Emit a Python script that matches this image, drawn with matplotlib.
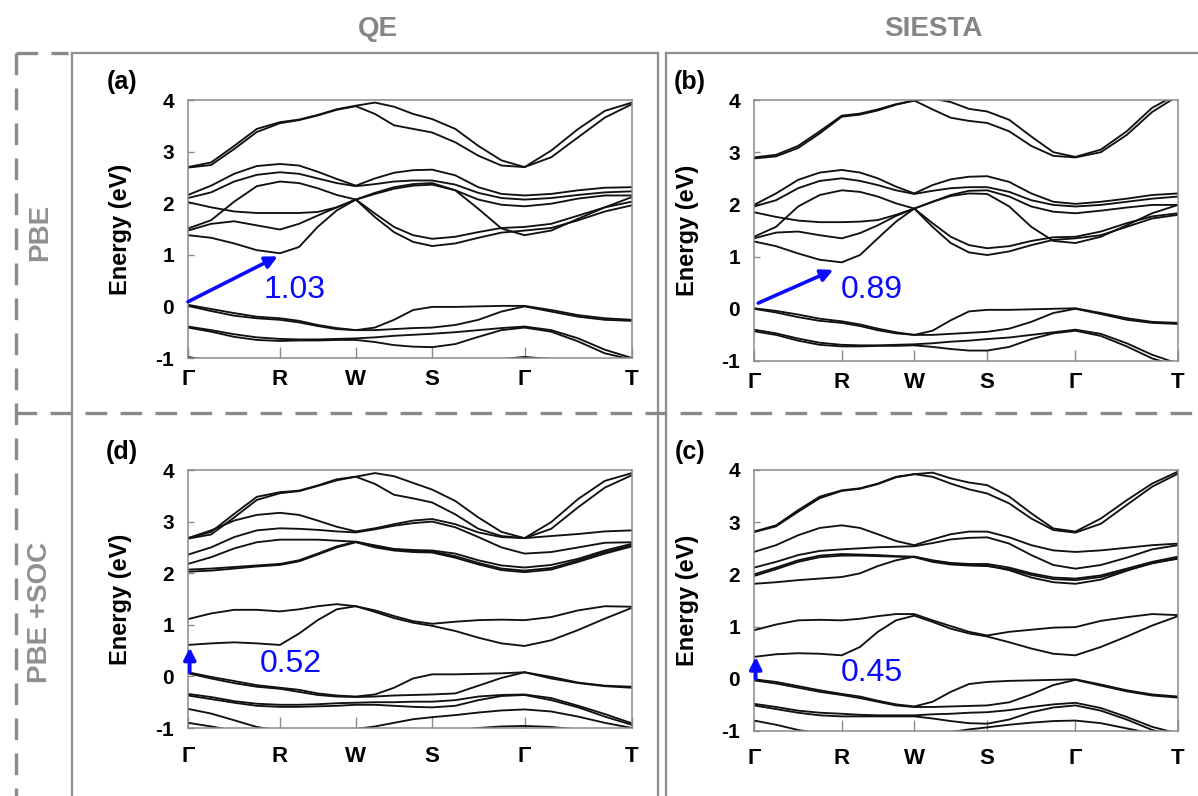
import matplotlib
matplotlib.use("Agg")
import matplotlib.pyplot as plt
from matplotlib.lines import Line2D

plt.rcParams['font.family'] = ['Liberation Sans', 'DejaVu Sans']

# ---------------- k-path ----------------
kpath_labels = ["Γ", "R", "W", "S", "Γ", "T"]
kpath_pos = [0.0, 0.207, 0.378, 0.55, 0.758, 1.0]
k = [0.0, 0.052, 0.104, 0.155, 0.207, 0.25, 0.292, 0.335, 0.378,
     0.421, 0.464, 0.507, 0.55, 0.602, 0.654, 0.706, 0.758,
     0.818, 0.879, 0.939, 1.0]

# ---------------- (a) QE, PBE ----------------
a_c1 = [2.70, 2.79, 3.11, 3.44, 3.57, 3.62, 3.71, 3.82, 3.89, 3.95, 3.87, 3.73, 3.63, 3.44, 3.11, 2.83, 2.70, 3.02, 3.44, 3.79, 3.95]
a_c2 = [2.69, 2.74, 3.05, 3.38, 3.55, 3.61, 3.70, 3.81, 3.88, 3.73, 3.51, 3.44, 3.37, 3.18, 2.92, 2.73, 2.70, 2.89, 3.28, 3.66, 3.92]
a_m1 = [2.16, 2.34, 2.57, 2.72, 2.76, 2.73, 2.61, 2.47, 2.34, 2.48, 2.59, 2.64, 2.65, 2.54, 2.31, 2.18, 2.15, 2.18, 2.25, 2.30, 2.31]
a_m2 = [2.10, 2.21, 2.42, 2.55, 2.60, 2.57, 2.48, 2.39, 2.33, 2.37, 2.42, 2.44, 2.44, 2.36, 2.20, 2.10, 2.07, 2.10, 2.16, 2.21, 2.23]
a_m3 = [1.51, 1.67, 2.03, 2.33, 2.42, 2.39, 2.29, 2.16, 2.07, 2.20, 2.31, 2.37, 2.39, 2.25, 2.07, 1.97, 1.94, 1.99, 2.09, 2.15, 2.15]
a_m4 = [2.02, 1.92, 1.84, 1.81, 1.81, 1.81, 1.83, 1.92, 2.07, 2.18, 2.28, 2.34, 2.36, 2.25, 1.89, 1.51, 1.38, 1.47, 1.70, 1.92, 2.12]
a_m5 = [1.47, 1.60, 1.65, 1.57, 1.49, 1.60, 1.76, 1.92, 2.07, 1.80, 1.54, 1.38, 1.31, 1.35, 1.44, 1.52, 1.54, 1.60, 1.76, 1.92, 2.03]
a_m6 = [1.38, 1.33, 1.22, 1.09, 1.03, 1.15, 1.54, 1.86, 2.07, 1.73, 1.44, 1.25, 1.17, 1.22, 1.33, 1.43, 1.47, 1.52, 1.67, 1.84, 1.96]
a_v1 = [0.03, -0.05, -0.13, -0.20, -0.23, -0.28, -0.36, -0.42, -0.46, -0.41, -0.26, -0.07, -0.01, -0.01, 0.00, 0.01, 0.01, -0.07, -0.17, -0.23, -0.26]
a_v2 = [0.01, -0.09, -0.18, -0.23, -0.26, -0.31, -0.38, -0.44, -0.46, -0.46, -0.44, -0.42, -0.41, -0.36, -0.26, -0.10, 0.00, -0.10, -0.20, -0.26, -0.28]
a_v3 = [-0.39, -0.46, -0.54, -0.60, -0.63, -0.64, -0.64, -0.63, -0.62, -0.60, -0.57, -0.55, -0.53, -0.50, -0.46, -0.42, -0.39, -0.46, -0.62, -0.84, -1.00]
a_v4 = [-0.41, -0.49, -0.59, -0.65, -0.67, -0.66, -0.66, -0.65, -0.65, -0.69, -0.75, -0.78, -0.79, -0.73, -0.59, -0.46, -0.41, -0.49, -0.68, -0.91, -1.03]
a_v5 = [-0.98, -1.05, -1.15, -1.20, -1.22, -1.22, -1.22, -1.22, -1.22, -1.22, -1.22, -1.22, -1.22, -1.20, -1.12, -1.02, -0.98, -1.02, -1.12, -1.20, -1.22]

# ---------------- (b) SIESTA, PBE ----------------
b_c1 = [2.90, 2.95, 3.12, 3.40, 3.70, 3.74, 3.82, 3.92, 3.99, 4.03, 3.96, 3.83, 3.78, 3.62, 3.30, 3.00, 2.91, 3.05, 3.40, 3.85, 4.12]
b_c2 = [2.88, 2.92, 3.08, 3.36, 3.68, 3.72, 3.80, 3.91, 3.99, 3.82, 3.66, 3.60, 3.56, 3.40, 3.12, 2.93, 2.90, 3.00, 3.33, 3.77, 4.08]
b_m1 = [1.99, 2.21, 2.47, 2.61, 2.66, 2.61, 2.50, 2.34, 2.21, 2.37, 2.48, 2.53, 2.54, 2.43, 2.21, 2.05, 2.01, 2.05, 2.11, 2.18, 2.21]
b_m2 = [1.96, 2.08, 2.31, 2.45, 2.50, 2.45, 2.37, 2.27, 2.20, 2.26, 2.31, 2.33, 2.33, 2.24, 2.08, 1.99, 1.96, 1.99, 2.05, 2.11, 2.15]
b_m3 = [1.38, 1.57, 1.96, 2.18, 2.27, 2.24, 2.15, 2.02, 1.92, 2.05, 2.18, 2.26, 2.27, 2.15, 1.96, 1.86, 1.83, 1.88, 1.94, 1.99, 1.99]
b_m4 = [1.85, 1.76, 1.69, 1.66, 1.66, 1.67, 1.70, 1.80, 1.92, 2.05, 2.16, 2.21, 2.20, 1.96, 1.57, 1.30, 1.26, 1.38, 1.60, 1.83, 1.99]
b_m5 = [1.35, 1.46, 1.48, 1.41, 1.35, 1.45, 1.60, 1.78, 1.92, 1.64, 1.38, 1.22, 1.16, 1.20, 1.30, 1.37, 1.38, 1.48, 1.64, 1.77, 1.83]
b_m6 = [1.29, 1.20, 1.06, 0.94, 0.89, 1.03, 1.35, 1.67, 1.92, 1.57, 1.26, 1.08, 1.03, 1.10, 1.22, 1.32, 1.35, 1.41, 1.57, 1.73, 1.80]
b_v1 = [0.01, -0.04, -0.11, -0.19, -0.24, -0.30, -0.38, -0.45, -0.50, -0.42, -0.22, -0.05, -0.02, -0.02, -0.01, 0.00, 0.01, -0.08, -0.18, -0.25, -0.27]
b_v2 = [0.00, -0.07, -0.16, -0.23, -0.27, -0.33, -0.41, -0.47, -0.50, -0.50, -0.48, -0.46, -0.44, -0.38, -0.25, -0.08, 0.00, -0.10, -0.21, -0.27, -0.29]
b_v3 = [-0.40, -0.47, -0.57, -0.65, -0.69, -0.70, -0.70, -0.69, -0.68, -0.66, -0.63, -0.61, -0.58, -0.55, -0.50, -0.45, -0.40, -0.48, -0.66, -0.88, -1.05]
b_v4 = [-0.43, -0.50, -0.61, -0.69, -0.72, -0.72, -0.71, -0.71, -0.70, -0.73, -0.77, -0.80, -0.80, -0.73, -0.58, -0.47, -0.42, -0.52, -0.72, -0.95, -1.10]

# ---------------- (d) QE, PBE+SOC ----------------
d_c1 = [2.68, 2.80, 3.15, 3.48, 3.57, 3.60, 3.70, 3.82, 3.87, 3.94, 3.88, 3.75, 3.62, 3.40, 3.08, 2.80, 2.68, 2.99, 3.44, 3.79, 3.94]
d_c2 = [2.67, 2.75, 3.08, 3.42, 3.55, 3.59, 3.69, 3.80, 3.87, 3.73, 3.52, 3.45, 3.37, 3.14, 2.86, 2.72, 2.68, 2.86, 3.28, 3.66, 3.90]
d_m1 = [2.68, 2.83, 3.02, 3.13, 3.17, 3.13, 3.02, 2.90, 2.81, 2.87, 2.95, 3.02, 3.05, 2.95, 2.79, 2.70, 2.68, 2.72, 2.76, 2.81, 2.83]
d_m2 = [2.36, 2.50, 2.70, 2.83, 2.87, 2.86, 2.84, 2.81, 2.79, 2.85, 2.92, 2.97, 3.00, 2.89, 2.70, 2.50, 2.38, 2.41, 2.50, 2.59, 2.60]
d_m3 = [2.18, 2.31, 2.48, 2.60, 2.65, 2.65, 2.65, 2.63, 2.61, 2.54, 2.47, 2.45, 2.44, 2.38, 2.25, 2.15, 2.11, 2.16, 2.28, 2.44, 2.57]
d_m4 = [2.07, 2.09, 2.12, 2.15, 2.18, 2.25, 2.38, 2.52, 2.61, 2.52, 2.46, 2.43, 2.42, 2.33, 2.20, 2.09, 2.05, 2.10, 2.25, 2.41, 2.54]
d_m5 = [2.03, 2.05, 2.09, 2.13, 2.16, 2.23, 2.36, 2.50, 2.60, 2.50, 2.44, 2.41, 2.40, 2.30, 2.17, 2.06, 2.02, 2.07, 2.22, 2.38, 2.52]
d_l1 = [1.11, 1.22, 1.29, 1.29, 1.26, 1.30, 1.36, 1.40, 1.36, 1.28, 1.17, 1.07, 1.02, 1.06, 1.09, 1.10, 1.09, 1.15, 1.28, 1.36, 1.35]
d_l2 = [0.61, 0.64, 0.66, 0.64, 0.61, 0.83, 1.09, 1.30, 1.36, 1.25, 1.13, 1.04, 0.98, 0.88, 0.75, 0.64, 0.59, 0.70, 0.90, 1.12, 1.33]
d_v1 = [0.08, -0.01, -0.09, -0.17, -0.22, -0.26, -0.33, -0.37, -0.39, -0.35, -0.22, -0.04, 0.04, 0.04, 0.05, 0.06, 0.08, -0.01, -0.12, -0.18, -0.20]
d_v2 = [0.06, -0.04, -0.13, -0.20, -0.24, -0.30, -0.36, -0.39, -0.40, -0.39, -0.37, -0.36, -0.35, -0.33, -0.18, -0.03, 0.08, -0.04, -0.13, -0.19, -0.22]
d_v3 = [-0.34, -0.40, -0.48, -0.53, -0.55, -0.55, -0.54, -0.52, -0.51, -0.50, -0.50, -0.49, -0.49, -0.46, -0.39, -0.36, -0.35, -0.42, -0.57, -0.73, -0.91]
d_v4 = [-0.37, -0.44, -0.51, -0.57, -0.59, -0.59, -0.58, -0.57, -0.55, -0.55, -0.57, -0.59, -0.60, -0.57, -0.46, -0.38, -0.36, -0.46, -0.60, -0.78, -0.94]
d_v5 = [-0.63, -0.72, -0.85, -0.98, -1.05, -1.08, -1.08, -1.05, -1.02, -0.97, -0.90, -0.83, -0.79, -0.75, -0.70, -0.66, -0.64, -0.68, -0.78, -0.90, -1.00]
d_v6 = [-0.90, -0.97, -1.05, -1.10, -1.15, -1.15, -1.15, -1.15, -1.15, -1.15, -1.15, -1.12, -1.10, -1.05, -1.00, -0.97, -0.96, -0.98, -1.03, -1.10, -1.15]

# ---------------- (c) SIESTA, PBE+SOC ----------------
c_c1 = [2.82, 2.94, 3.23, 3.49, 3.61, 3.65, 3.74, 3.87, 3.92, 3.95, 3.84, 3.76, 3.71, 3.49, 3.17, 2.88, 2.82, 3.07, 3.42, 3.74, 3.97]
c_c2 = [2.81, 2.92, 3.20, 3.46, 3.60, 3.64, 3.73, 3.86, 3.92, 3.87, 3.74, 3.63, 3.55, 3.36, 3.07, 2.85, 2.80, 2.97, 3.33, 3.68, 3.93]
c_m1 = [2.43, 2.56, 2.75, 2.89, 2.94, 2.89, 2.77, 2.64, 2.56, 2.67, 2.77, 2.82, 2.82, 2.71, 2.56, 2.46, 2.43, 2.46, 2.51, 2.56, 2.59]
c_m2 = [2.13, 2.24, 2.37, 2.45, 2.48, 2.50, 2.52, 2.53, 2.54, 2.60, 2.67, 2.70, 2.71, 2.59, 2.37, 2.18, 2.11, 2.18, 2.32, 2.48, 2.56]
c_m3 = [2.00, 2.13, 2.27, 2.36, 2.39, 2.38, 2.37, 2.35, 2.34, 2.27, 2.22, 2.20, 2.20, 2.13, 2.02, 1.94, 1.92, 1.98, 2.11, 2.24, 2.34]
c_m4 = [1.82, 1.85, 1.89, 1.92, 1.95, 2.02, 2.16, 2.27, 2.34, 2.26, 2.21, 2.18, 2.17, 2.08, 1.94, 1.85, 1.82, 1.90, 2.07, 2.22, 2.30]
c_m5 = [1.97, 2.10, 2.24, 2.33, 2.36, 2.36, 2.35, 2.34, 2.33, 2.24, 2.19, 2.17, 2.16, 2.10, 1.99, 1.91, 1.89, 1.95, 2.08, 2.21, 2.31]
c_l1 = [0.93, 1.04, 1.12, 1.13, 1.12, 1.15, 1.20, 1.24, 1.24, 1.12, 1.01, 0.90, 0.83, 0.90, 0.94, 0.98, 0.99, 1.11, 1.18, 1.24, 1.22]
c_l2 = [0.42, 0.47, 0.49, 0.48, 0.45, 0.61, 0.90, 1.12, 1.21, 1.09, 0.96, 0.87, 0.81, 0.70, 0.58, 0.48, 0.45, 0.61, 0.81, 1.02, 1.20]
c_v1 = [-0.01, -0.06, -0.14, -0.22, -0.29, -0.34, -0.42, -0.49, -0.53, -0.44, -0.25, -0.10, -0.06, -0.04, -0.03, -0.02, -0.01, -0.11, -0.22, -0.30, -0.34]
c_v2 = [-0.03, -0.09, -0.17, -0.25, -0.31, -0.37, -0.44, -0.51, -0.54, -0.54, -0.53, -0.52, -0.51, -0.45, -0.30, -0.12, -0.02, -0.13, -0.24, -0.32, -0.36]
c_v3 = [-0.48, -0.54, -0.61, -0.65, -0.67, -0.69, -0.70, -0.70, -0.70, -0.68, -0.67, -0.65, -0.64, -0.60, -0.54, -0.49, -0.46, -0.56, -0.73, -0.92, -1.05]
c_v4 = [-0.51, -0.58, -0.65, -0.70, -0.72, -0.72, -0.72, -0.72, -0.72, -0.76, -0.81, -0.85, -0.86, -0.78, -0.64, -0.55, -0.51, -0.61, -0.78, -0.98, -1.10]
c_v5 = [-0.80, -0.88, -0.98, -1.05, -1.10, -1.10, -1.10, -1.10, -1.10, -1.08, -1.02, -0.97, -0.93, -0.88, -0.84, -0.81, -0.80, -0.85, -0.95, -1.05, -1.10]

# gap annotations: (text, arrow tail (k, E), arrow tip (k, E), text position (k, E))
gap_a = ("1.03", (0.0, 0.09), (0.202, 0.97), (0.241, 0.32))
gap_b = ("0.89", (0.01, 0.11), (0.187, 0.745), (0.278, 0.36))
gap_d = ("0.52", (0.004, 0.08), (0.004, 0.56), (0.232, 0.24))
gap_c = ("0.45", (0.004, 0.0), (0.004, 0.42), (0.278, 0.11))

col_titles = ["QE", "SIESTA"]
row_titles = ["PBE", "PBE +SOC"]
panel_tags = ["(a)", "(b)", "(d)", "(c)"]
yticks = [-1, 0, 1, 2, 3, 4]

W, H = 1198, 796
fig = plt.figure(figsize=(W / 100, H / 100), dpi=100)

def fx(x):
    return x / W

def fy(y):
    return 1 - y / H

GRAY = '#8a8a8a'
BLUE = '#0a0aff'

def make_axes(l, t, r, b):
    return fig.add_axes([fx(l), fy(b), fx(r) - fx(l), fy(t) - fy(b)])

ax_a = make_axes(188, 100, 632, 358)
ax_b = make_axes(754, 100, 1178, 361)
ax_d = make_axes(188, 470, 632, 728)
ax_c = make_axes(754, 470, 1178, 731)

panels = [
    (ax_a, [a_c1, a_c2, a_m1, a_m2, a_m3, a_m4, a_m5, a_m6, a_v1, a_v2, a_v3, a_v4, a_v5], gap_a, -0.152, 8),
    (ax_b, [b_c1, b_c2, b_m1, b_m2, b_m3, b_m4, b_m5, b_m6, b_v1, b_v2, b_v3, b_v4], gap_b, -0.156, 8),
    (ax_d, [d_c1, d_c2, d_m1, d_m2, d_m3, d_m4, d_m5, d_l1, d_l2, d_v1, d_v2, d_v3, d_v4, d_v5, d_v6], gap_d, -0.152, 13),
    (ax_c, [c_c1, c_c2, c_m1, c_m2, c_m3, c_m4, c_m5, c_l1, c_l2, c_v1, c_v2, c_v3, c_v4, c_v5], gap_c, -0.156, 12),
]

for ax, bands, gap, ylab_x, xpad in panels:
    for band in bands:
        ax.plot(k, band, color='#111111', lw=1.35, solid_joinstyle='round',
                solid_capstyle='round')
    ax.set_xlim(0, 1)
    ax.set_ylim(-1, 4)
    ax.set_xticks(kpath_pos)
    ax.set_xticklabels(kpath_labels)
    ax.set_yticks(yticks)
    ax.set_yticklabels([str(v) for v in yticks])
    for lab in ax.get_xticklabels():
        lab.set_fontweight('bold')
        lab.set_fontsize(16)
    for lab in ax.get_yticklabels():
        lab.set_fontweight('bold')
        lab.set_fontsize(15)
    ax.tick_params(axis='x', direction='in', length=8, width=1.0, color=GRAY, pad=xpad)
    ax.tick_params(axis='y', direction='in', length=4, width=1.0, color=GRAY, pad=10)
    for sp in ax.spines.values():
        sp.set_color(GRAY)
        sp.set_linewidth(1.1)
    ax.text(ylab_x, 0.5, "Energy (eV)", transform=ax.transAxes, rotation=90,
            ha='center', va='center', fontsize=17, fontweight='bold')
    txt, tail, tip, tpos = gap
    ax.annotate('', xy=tip, xytext=tail,
                arrowprops=dict(arrowstyle='-|>', color=BLUE, lw=2.6,
                                mutation_scale=18, shrinkA=0, shrinkB=0),
                annotation_clip=False)
    ax.text(tpos[0], tpos[1], txt, color=BLUE, fontsize=23, ha='center', va='center')

# panel tags
tag_pos = [(122, 82), (690, 82), (122, 452), (690, 452)]
for tag, (tx, ty) in zip(panel_tags, tag_pos):
    fig.text(fx(tx), fy(ty), tag, fontsize=18, fontweight='bold', ha='center', va='center')

# column / row titles
fig.text(fx(378), fy(29), col_titles[0], fontsize=20, fontweight='bold', color='#858585', ha='center', va='center')
fig.text(fx(933), fy(29), col_titles[1], fontsize=20, fontweight='bold', color='#858585', ha='center', va='center')
fig.text(fx(40), fy(232), row_titles[0], fontsize=20, fontweight='bold', color='#909090', rotation=90, ha='center', va='center')
fig.text(fx(40), fy(612), row_titles[1], fontsize=20, fontweight='bold', color='#909090', rotation=90, ha='center', va='center')

# frames
def fline(x0, y0, x1, y1, **kw):
    fig.add_artist(Line2D([fx(x0), fx(x1)], [fy(y0), fy(y1)], transform=fig.transFigure, **kw))

solid = dict(color='#8f8f8f', lw=1.6)
fline(71.5, 53, 658, 53, **solid)
fline(71.5, 53, 71.5, 800, **solid)
fline(658, 53, 658, 800, **solid)
fline(666, 53, 1200, 53, **solid)
fline(666, 53, 666, 800, **solid)

dash = dict(color=GRAY, lw=2.4, dashes=(6.5, 4.0), solid_capstyle='butt', dash_capstyle='butt')
fline(15, 413, 1200, 413, **dash)
fline(16, 53, 16, 800, **dash)
fline(16, 53, 68, 53, **dash)

fig.savefig("out.png", dpi=100)
